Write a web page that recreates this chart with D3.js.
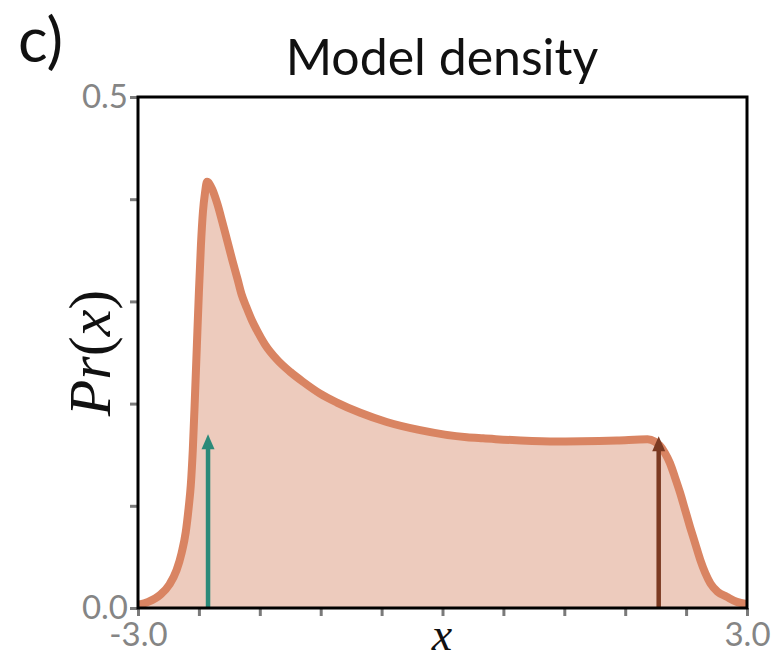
<!DOCTYPE html>
<html>
<head>
<meta charset="utf-8">
<script src="https://cdn.jsdelivr.net/npm/d3@7"></script>
<style>
    body { margin: 0; background: #ffffff; }
    svg { display: block; }
</style>
</head>
<body>
<div id="chart"></div>
<script>

/****************************
  * Data
  ***************************/

// model density, x in data units
var densityX = [-3.0, -2.90, -2.78, -2.69, -2.62, -2.57, -2.53, -2.50, -2.48, -2.46,
    -2.44, -2.42, -2.40, -2.38, -2.36, -2.34, -2.32,
    -2.27, -2.22, -2.17, -2.12, -2.07, -2.02, -1.98, -1.93, -1.88, -1.83,
    -1.75, -1.63, -1.50, -1.37, -1.21, -1.04, -0.81, -0.55, -0.22, 0.24,
    0.40, 1.06, 1.72, 2.02, 2.09, 2.14, 2.19, 2.24, 2.29, 2.34, 2.39, 2.44,
    2.49, 2.54, 2.59, 2.64, 2.71, 2.80, 2.90, 3.0];
var densityY = [0.003, 0.006, 0.013, 0.023, 0.037, 0.054, 0.074, 0.099, 0.120, 0.155,
    0.204, 0.257, 0.309, 0.355, 0.388, 0.406, 0.417,
    0.410, 0.396, 0.378, 0.359, 0.340, 0.322, 0.307, 0.294, 0.282, 0.272,
    0.258, 0.243, 0.231, 0.221, 0.210, 0.201, 0.191, 0.182, 0.174, 0.167,
    0.166, 0.163, 0.164, 0.165, 0.163, 0.159, 0.152, 0.142, 0.128, 0.113, 0.096, 0.079,
    0.063, 0.047, 0.034, 0.024, 0.016, 0.011, 0.006, 0.004];

// the two delta arrows
var arrowX = [-2.31, 2.13];
var arrowTop = [0.170, 0.168];
var arrowColors = ['#2b8a79', '#7b3a22'];

// axes
var xDomain = [-3.0, 3.0];
var yDomain = [0.0, 0.5];
var xTicks = [-3.0, -2.4, -1.8, -1.2, -0.6, 0.0, 0.6, 1.2, 1.8, 2.4, 3.0];
var yTicks = [0.0, 0.1, 0.2, 0.3, 0.4, 0.5];
var xTickLabels = [-3.0, 3.0];
var yTickLabels = [0.0, 0.5];

/****************************
  * Setup
  ***************************/

var width = 777;
var height = 662;
var plot = {left: 138, right: 747, top: 97, bottom: 608};

var svg = d3.select('#chart').append('svg')
    .attr('width', width)
    .attr('height', height);

var x = d3.scaleLinear().domain(xDomain).range([plot.left, plot.right]);
var y = d3.scaleLinear().domain(yDomain).range([plot.bottom, plot.top]);

var points = densityX.map(function(d, i) { return [d, densityY[i]]; });

svg.append('clipPath')
    .attr('id', 'plotclip')
    .append('rect')
    .attr('x', plot.left)
    .attr('y', plot.top)
    .attr('width', plot.right - plot.left)
    .attr('height', plot.bottom - plot.top);

var g = svg.append('g').attr('clip-path', 'url(#plotclip)');

/****************************
  * Density
  ***************************/

var area = d3.area()
    .x(function(d) { return x(d[0]); })
    .y0(y(0))
    .y1(function(d) { return y(d[1]); })
    .curve(d3.curveMonotoneX);

var line = d3.line()
    .x(function(d) { return x(d[0]); })
    .y(function(d) { return y(d[1]); })
    .curve(d3.curveMonotoneX);

g.append('path')
    .attr('d', area(points))
    .style('fill', '#edcbbd');

g.append('path')
    .attr('d', line(points))
    .style('fill', 'none')
    .style('stroke', '#d98462')
    .style('stroke-width', 8)
    .style('stroke-linejoin', 'round');

// arrows: a shaft and a triangular head
for (var i = 0; i < arrowX.length; i++) {
    var ax = x(arrowX[i]);
    var tip = y(arrowTop[i]);
    g.append('line')
        .attr('x1', ax).attr('x2', ax)
        .attr('y1', y(0)).attr('y2', tip + 8)
        .style('stroke', arrowColors[i])
        .style('stroke-width', 4.5);
    g.append('path')
        .attr('d', 'M' + ax + ',' + tip + 'L' + (ax + 6.5) + ',' + (tip + 15)
            + 'L' + (ax - 6.5) + ',' + (tip + 15) + 'Z')
        .style('fill', arrowColors[i]);
}

/****************************
  * Axes
  ***************************/

var xAxis = d3.axisBottom(x)
    .tickValues(xTicks)
    .tickSize(8)
    .tickPadding(7)
    .tickFormat(function(d) {
        return xTickLabels.indexOf(d) >= 0 ? d3.format('.1f')(d).replace('−', '-') : '';
    });
var yAxis = d3.axisLeft(y)
    .tickValues(yTicks)
    .tickSize(8)
    .tickPadding(2)
    .tickFormat(function(d) {
        return yTickLabels.indexOf(d) >= 0 ? d3.format('.1f')(d) : '';
    });

function styleAxis(sel) {
    sel.select('.domain').remove();
    sel.selectAll('.tick line')
        .style('stroke', '#7a7a7a')
        .style('stroke-width', 3);
    sel.selectAll('.tick text')
        .style('fill', '#858585')
        .style('font-family', 'Lato, sans-serif')
        .style('font-size', '33px');
}

svg.append('g')
    .attr('transform', 'translate(0,' + plot.bottom + ')')
    .call(xAxis)
    .call(styleAxis);

svg.append('g')
    .attr('transform', 'translate(' + plot.left + ',0)')
    .call(yAxis)
    .call(styleAxis);

// frame
svg.append('rect')
    .attr('x', plot.left)
    .attr('y', plot.top)
    .attr('width', plot.right - plot.left)
    .attr('height', plot.bottom - plot.top)
    .style('fill', 'none')
    .style('stroke', '#000000')
    .style('stroke-width', 3);

/****************************
  * Text
  ***************************/

svg.append('text')
    .attr('x', 442)
    .attr('y', 75)
    .attr('text-anchor', 'middle')
    .style('font-family', 'Lato, sans-serif')
    .style('font-size', '50px')
    .style('fill', '#111111')
    .text('Model density');

svg.append('text')
    .attr('x', 18)
    .attr('y', 62)
    .style('font-family', 'Lato, sans-serif')
    .style('font-size', '62px')
    .style('fill', '#111111')
    .text('c)');

svg.append('text')
    .attr('x', 442)
    .attr('y', 650)
    .attr('text-anchor', 'middle')
    .style('font-family', '"Liberation Serif", serif')
    .style('font-style', 'italic')
    .style('font-size', '46px')
    .style('fill', '#111111')
    .text('x');

// math-style label: italic letters, upright brackets
var yLabel = svg.append('text')
    .attr('transform', 'translate(110,' + 353 + ') rotate(-90)')
    .attr('text-anchor', 'middle')
    .style('font-family', '"Liberation Serif", serif')
    .style('font-size', '60px')
    .style('fill', '#111111');
var yLabelParts = [['P', 'italic'], ['r', 'italic'], ['(', 'normal'], ['x', 'italic'], [')', 'normal']];
yLabelParts.forEach(function(p) {
    yLabel.append('tspan')
        .style('font-style', p[1])
        .text(p[0]);
});

</script>
</body>
</html>
